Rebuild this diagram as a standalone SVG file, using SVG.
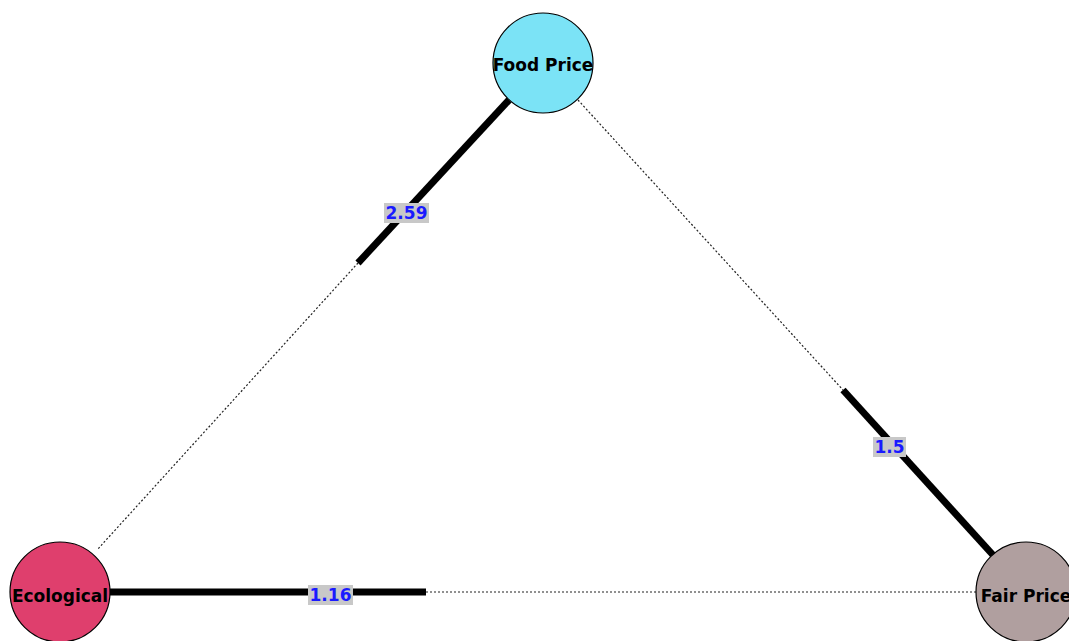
<svg xmlns="http://www.w3.org/2000/svg" width="1069" height="641" viewBox="0 0 1069 641">
  <style>
    .node { stroke: #000; stroke-width: 1.2; }
    .name { font-family: "DejaVu Sans", Verdana, sans-serif; font-weight: bold; font-size: 17px; fill: #000; text-anchor: middle; dominant-baseline: central; }
    .thick { stroke: #000; stroke-width: 7; fill: none; }
    .dot { stroke: #222; stroke-width: 1.2; stroke-dasharray: 2 2; fill: none; }
    .lblbox { fill: #c8c8c8; }
    .lbl { font-family: "DejaVu Sans", Verdana, sans-serif; font-weight: bold; font-size: 17px; fill: #1a1aff; text-anchor: middle; dominant-baseline: central; }
  </style>
  <rect width="1069" height="641" fill="#fff"/>
  <g id="connectors">
    <!-- Food Price — Ecological -->
    <line class="thick" x1="509" y1="100" x2="358" y2="263"/>
    <line class="dot" x1="358" y1="263" x2="97" y2="550"/>
    <!-- Food Price — Fair Price -->
    <line class="dot" x1="578" y1="100" x2="843" y2="390"/>
    <line class="thick" x1="843" y1="390" x2="993" y2="555"/>
    <!-- Ecological — Fair Price -->
    <line class="thick" x1="110" y1="592" x2="426" y2="592"/>
    <line class="dot" x1="426" y1="592" x2="976" y2="592"/>
    <!-- weight labels -->
    <rect class="lblbox" x="384" y="203" width="45" height="20"/>
    <text class="lbl" x="406.5" y="213">2.59</text>
    <rect class="lblbox" x="873" y="437" width="33" height="20"/>
    <text class="lbl" x="889.5" y="447">1.5</text>
    <rect class="lblbox" x="308" y="585" width="45" height="20"/>
    <text class="lbl" x="330.5" y="595">1.16</text>
  </g>
  <g id="food-price">
    <circle class="node" cx="543" cy="63" r="50" fill="#7be3f6"/>
    <text class="name" x="543" y="65">Food Price</text>
  </g>
  <g id="ecological">
    <circle class="node" cx="60" cy="592" r="50" fill="#df3f6d"/>
    <text class="name" x="60" y="596">Ecological</text>
  </g>
  <g id="fair-price">
    <circle class="node" cx="1026" cy="592" r="50" fill="#b09f9f"/>
    <text class="name" x="1026" y="596">Fair Price</text>
  </g>
</svg>
